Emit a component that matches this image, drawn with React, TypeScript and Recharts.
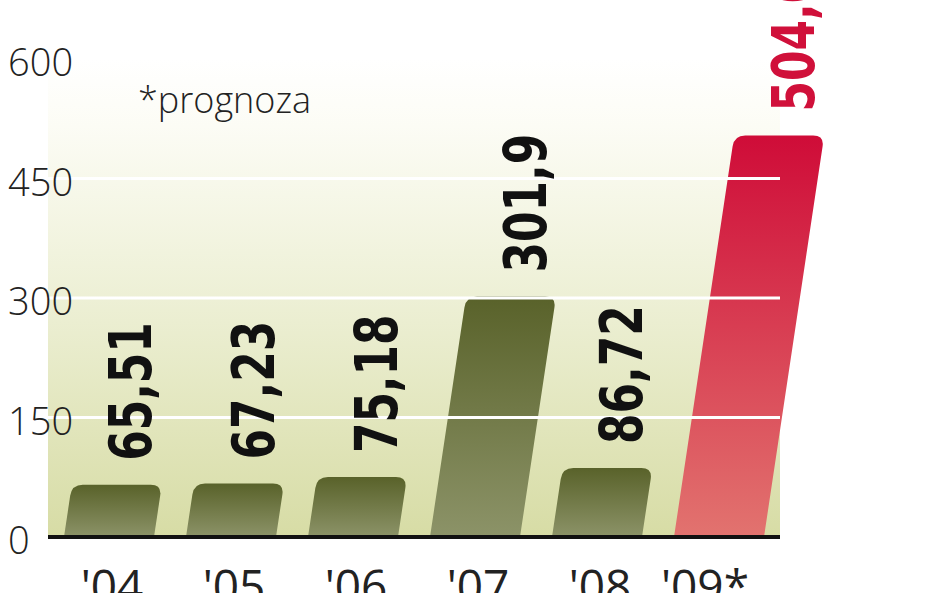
import React from 'react';
import { BarChart, Bar, XAxis, YAxis, CartesianGrid, ReferenceLine, LabelList } from 'recharts';

const years = ["'04", "'05", "'06", "'07", "'08", "'09*"];
const values = [65.51, 67.23, 75.18, 301.9, 86.72, 504.0];
const valueLabels = ["65,51", "67,23", "75,18", "301,9", "86,72", "504,0"];
const forecast = [false, false, false, false, false, true];
const yTicks = [0, 150, 300, 450, 600];
const gridValues = [150, 300, 450];
const noteText = '*prognoza';

const data = years.map((year, i) => ({
  year,
  value: values[i],
  label: valueLabels[i],
  forecast: forecast[i],
}));

const SKEW = 0.15;
const LABEL_FS = 58;

const SlantBar = (props: any) => {
  const { x, y, width, height, payload } = props;
  const h = height;
  const bottom = y + h;
  const r = Math.min(11, h / 2);
  const off = SKEW * h;
  const xl = x;
  const xr = x + width;
  const d = `M${xl},${bottom} L${xl + SKEW * (h - r)},${y + r} Q${xl + off},${y} ${xl + off + r},${y} L${xr + off - r},${y} Q${xr + off},${y} ${xr + SKEW * (h - r)},${y + r} L${xr},${bottom} Z`;
  return <path d={d} fill={payload && payload.forecast ? 'url(#gRed)' : 'url(#gOlive)'} />;
};

const renderLabel = (props: any) => {
  const { x, y, width, height, value } = props;
  let idx = props.index;
  if (idx === undefined || idx === null) idx = valueLabels.indexOf(value);
  const bottom = y + height;
  const start = y - 24;
  const mid = start - 66;
  const cx = x + width / 2 + SKEW * (bottom - mid);
  const bx = cx + (LABEL_FS * 0.73) / 2;
  return (
    <text
      transform={`translate(${bx},${start}) rotate(-90) scale(0.84,1)`}
      textAnchor="start"
      fontFamily="'Liberation Sans Narrow', 'DejaVu Sans Condensed', sans-serif"
      fontWeight="bold"
      fontSize={LABEL_FS}
      fill={forecast[idx] ? '#d0103a' : '#111111'}
    >
      {value}
    </text>
  );
};

const YTick = (props: any) => {
  const { y, payload } = props;
  return (
    <text
      x={8}
      y={y + 17}
      textAnchor="start"
      fontFamily="'Open Sans', sans-serif"
      fontWeight={300}
      fontSize={38}
      fill="#222"
    >
      {payload.value}
    </text>
  );
};

const XTick = (props: any) => {
  const { x, y, payload } = props;
  const isForecast = String(payload.value).indexOf('*') >= 0;
  return (
    <text
      x={isForecast ? x + 30 : x + 3}
      y={y + 58}
      textAnchor={isForecast ? 'end' : 'middle'}
      fontFamily="'Open Sans', sans-serif"
      fontSize={46}
      fill="#222"
    >
      {payload.value}
    </text>
  );
};

export default function App() {
  return (
    <div style={{ position: 'absolute', left: 0, top: 0, width: 948, height: 593, background: '#fff' }}>
      <BarChart
        width={948}
        height={593}
        data={data}
        margin={{ top: 59, right: 168, left: 8, bottom: 0 }}
        barSize={90}
      >
        <defs>
          <linearGradient id="bg" x1="0" y1="0" x2="0" y2="1">
            <stop offset="0%" stopColor="#ffffff" />
            <stop offset="14%" stopColor="#fcfcf5" />
            <stop offset="55%" stopColor="#ebeed1" />
            <stop offset="100%" stopColor="#d7dca5" />
          </linearGradient>
          <linearGradient id="gOlive" x1="0" y1="0" x2="0" y2="1">
            <stop offset="0%" stopColor="#59622a" />
            <stop offset="100%" stopColor="#8c9368" />
          </linearGradient>
          <linearGradient id="gRed" x1="0" y1="0" x2="0" y2="1">
            <stop offset="0%" stopColor="#cf0c38" />
            <stop offset="100%" stopColor="#e2736f" />
          </linearGradient>
        </defs>
        <CartesianGrid horizontal={false} vertical={false} fill="url(#bg)" />
        <XAxis
          dataKey="year"
          height={56}
          axisLine={{ stroke: '#111', strokeWidth: 4 }}
          tickLine={false}
          tick={<XTick />}
          interval={0}
        />
        <YAxis
          width={40}
          domain={[0, 600]}
          ticks={yTicks}
          axisLine={false}
          tickLine={false}
          tick={<YTick />}
        />
        <Bar dataKey="value" shape={<SlantBar />} isAnimationActive={false}>
          <LabelList dataKey="label" content={renderLabel} />
        </Bar>
        {gridValues.map((v) => (
          <ReferenceLine key={v} y={v} stroke="#ffffff" strokeWidth={3} />
        ))}
        <text
          x={138}
          y={113}
          fontFamily="'Open Sans', sans-serif"
          fontWeight={300}
          fontSize={36}
          fill="#222"
        >
          {noteText}
        </text>
      </BarChart>
    </div>
  );
}
